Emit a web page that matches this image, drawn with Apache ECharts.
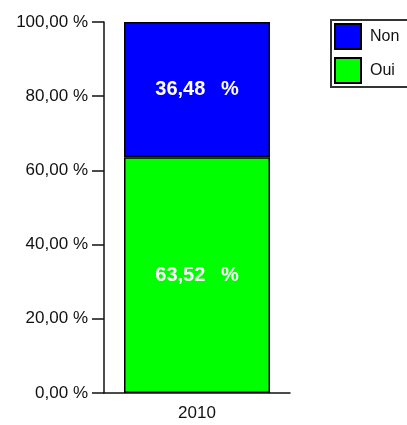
<!DOCTYPE html>
<html>
<head>
<meta charset="utf-8">
<script src="https://cdn.jsdelivr.net/npm/echarts@6/dist/echarts.min.js"></script>
<style>
  html, body { margin: 0; padding: 0; background: #fff; }
  #chart { width: 407px; height: 425px; }
</style>
</head>
<body>
<div id="chart"></div>
<script>
const years = ['2010'];
const seriesNames = ['Oui', 'Non'];
const oui = [63.52];
const non = [36.48];
const yTicks = [0, 20, 40, 60, 80, 100];

const fmt = v => v.toFixed(2).replace('.', ',');

const chart = echarts.init(document.getElementById('chart'));
const barLabel = {
    show: true,
    position: 'inside',
    color: '#fff',
    fontFamily: 'Liberation Sans',
    fontWeight: 'bold',
    fontSize: 20,
    formatter: p => fmt(p.value) + '\u2002 %'
};
chart.setOption({
    animation: false,
    grid: { left: 104, right: 117, top: 22, bottom: 32 },
    legend: {
        data: ['Non', 'Oui'],
        orient: 'vertical',
        icon: 'rect',
        left: 331,
        top: 20,
        itemWidth: 26,
        itemHeight: 25,
        itemGap: 7,
        padding: [3, 30, 3, 3],
        borderColor: '#333',
        borderWidth: 2,
        textStyle: { fontFamily: 'Liberation Sans', fontSize: 16, color: '#111', padding: [0, 0, 0, 4] }
    },
    xAxis: {
        type: 'category',
        data: years,
        axisLine: { lineStyle: { color: '#111', width: 1.5 } },
        axisTick: { length: 9, lineStyle: { color: '#111', width: 1.5 } },
        axisLabel: { fontFamily: 'Liberation Sans', fontSize: 17, color: '#111', margin: 12 }
    },
    yAxis: {
        type: 'value',
        min: yTicks[0],
        max: yTicks[yTicks.length - 1],
        interval: 20,
        splitLine: { show: false },
        axisLine: { show: true, lineStyle: { color: '#111', width: 1.5 } },
        axisTick: { show: true, length: 12, lineStyle: { color: '#111', width: 1.5 } },
        axisLabel: {
            fontFamily: 'Liberation Sans', fontSize: 17, color: '#111', margin: 16,
            formatter: v => fmt(v) + ' %'
        }
    },
    series: [
        {
            name: seriesNames[0], type: 'bar', stack: 'total', data: oui, barWidth: 146,
            itemStyle: { color: '#00ff00', borderColor: '#000', borderWidth: 1.5 },
            label: barLabel
        },
        {
            name: seriesNames[1], type: 'bar', stack: 'total', data: non, barWidth: 146,
            itemStyle: { color: '#0000ff', borderColor: '#000', borderWidth: 1.5 },
            label: barLabel
        }
    ]
});
</script>
</body>
</html>
